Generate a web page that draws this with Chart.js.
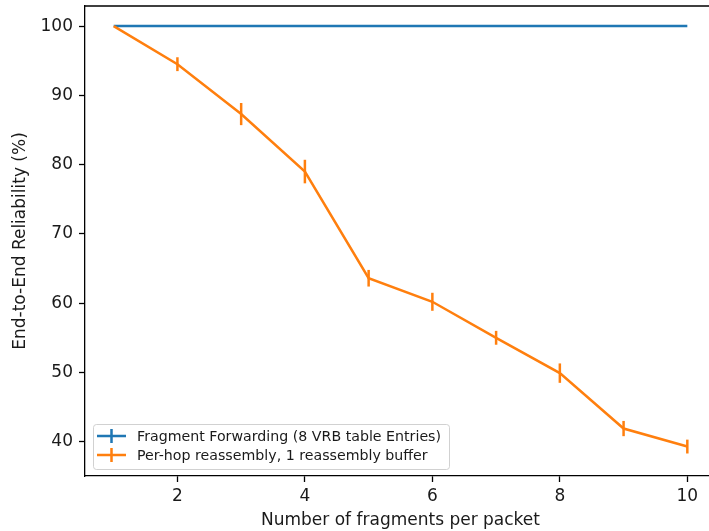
<!DOCTYPE html>
<html><head><meta charset="utf-8">
<script src="https://cdn.jsdelivr.net/npm/chart.js@4/dist/chart.umd.min.js"></script>
<style>html,body{margin:0;padding:0;overflow:hidden;background:#fff;width:709px;height:531px}canvas{display:block}</style>
</head><body><canvas id="c" width="730" height="531"></canvas>
<script>
const fragmentsPerPacket = [1, 2, 3, 4, 5, 6, 7, 8, 9, 10];
const fragmentForwarding = [100, 100, 100, 100, 100, 100, 100, 100, 100, 100];
const fragmentForwardingErr = [0, 0, 0, 0, 0, 0, 0, 0, 0, 0];
const perHopReassembly = [100, 94.5, 87.3, 79.0, 63.6, 60.2, 55.0, 49.9, 41.9, 39.3];
const perHopReassemblyErr = [0, 1.0, 1.6, 1.7, 1.2, 1.3, 1.0, 1.4, 1.1, 1.0];
const seriesLabels = ['Fragment Forwarding (8 VRB table Entries)', 'Per-hop reassembly, 1 reassembly buffer'];
const xTicks = [2, 4, 6, 8, 10];
const yTicks = [40, 50, 60, 70, 80, 90, 100];
const xTitle = 'Number of fragments per packet';
const yTitle = 'End-to-End Reliability (%)';

const FONT = "'DejaVu Sans', sans-serif";
const BLUE = '#1f77b4', ORANGE = '#ff7f0e';

const toPts = (ys) => fragmentsPerPacket.map((x, i) => ({x, y: ys[i]}));

const errorBars = {
  id: 'errorBars',
  afterDatasetsDraw(chart) {
    const {ctx, scales: {x, y}} = chart;
    chart.data.datasets.forEach((ds) => {
      if (!ds.errors) return;
      ctx.save();
      ctx.strokeStyle = ds.borderColor;
      ctx.lineWidth = 2.5;
      ds.data.forEach((p, i) => {
        const e = ds.errors[i];
        if (!e) return;
        const px = x.getPixelForValue(p.x);
        ctx.beginPath();
        ctx.moveTo(px, y.getPixelForValue(p.y - e));
        ctx.lineTo(px, y.getPixelForValue(p.y + e));
        ctx.stroke();
      });
      ctx.restore();
    });
  }
};

const frame = {
  id: 'frame',
  afterDraw(chart) {
    const {ctx, chartArea: a} = chart;
    ctx.save();
    ctx.strokeStyle = '#000';
    ctx.lineWidth = 1.3;
    ctx.beginPath();
    ctx.moveTo(a.left, a.top);
    ctx.lineTo(a.right, a.top);
    ctx.lineTo(a.right, a.bottom);
    ctx.stroke();
    ctx.restore();
  }
};

const legendBox = {
  id: 'legendBox',
  afterDraw(chart) {
    const {ctx} = chart;
    const bx = 93, by = 424, bw = 356, bh = 45, r = 3;
    ctx.save();
    ctx.fillStyle = 'rgba(255,255,255,0.8)';
    ctx.strokeStyle = 'rgba(204,204,204,0.9)';
    ctx.lineWidth = 1;
    ctx.beginPath();
    ctx.roundRect(bx + 0.5, by + 0.5, bw, bh, r);
    ctx.fill();
    ctx.stroke();
    const colors = [BLUE, ORANGE];
    ctx.font = '14.2px ' + FONT;
    ctx.textBaseline = 'middle';
    ctx.fillStyle = '#1a1a1a';
    seriesLabels.forEach((lab, i) => {
      const cy = 436 + i * 19;
      ctx.strokeStyle = colors[i];
      ctx.lineWidth = 2.5;
      ctx.beginPath();
      ctx.moveTo(97, cy); ctx.lineTo(126, cy);
      ctx.moveTo(111.5, cy - 7); ctx.lineTo(111.5, cy + 7);
      ctx.stroke();
      ctx.fillText(lab, 137, cy + 1);
    });
    ctx.restore();
  }
};

new Chart(document.getElementById('c'), {
  type: 'line',
  data: {
    datasets: [
      {label: seriesLabels[0], data: toPts(fragmentForwarding), errors: fragmentForwardingErr,
       borderColor: BLUE, backgroundColor: BLUE, borderWidth: 2.5, pointRadius: 0, order: 1, tension: 0},
      {label: seriesLabels[1], data: toPts(perHopReassembly), errors: perHopReassemblyErr,
       borderColor: ORANGE, backgroundColor: ORANGE, borderWidth: 2.5, pointRadius: 0, order: 0, tension: 0}
    ]
  },
  options: {
    responsive: false,
    animation: false,
    events: [],
    layout: {padding: {left: 0, top: 6, right: 14, bottom: 0}},
    plugins: {legend: {display: false}, tooltip: {enabled: false}},
    scales: {
      x: {
        type: 'linear', min: 0.55, max: 10.45,
        afterBuildTicks: (s) => { s.ticks = xTicks.map(v => ({value: v})); },
        afterFit: (s) => { s.height = 55; s.paddingLeft = 0; s.paddingRight = 0; },
        grid: {display: true, drawOnChartArea: false, drawTicks: true, tickLength: 6, color: '#000', tickWidth: 1.3},
        border: {display: true, color: '#000', width: 1.3},
        ticks: {color: '#1a1a1a', font: {family: FONT, size: 17}, padding: 4, maxRotation: 0},
        title: {display: true, text: xTitle, color: '#1a1a1a', font: {family: FONT, size: 17}, padding: {top: 0, bottom: 0}}
      },
      y: {
        type: 'linear', min: 35.05, max: 102.9,
        afterBuildTicks: (s) => { s.ticks = yTicks.map(v => ({value: v})); },
        afterFit: (s) => { s.width = 85; s.paddingTop = 0; s.paddingBottom = 0; },
        grid: {display: true, drawOnChartArea: false, drawTicks: true, tickLength: 6, color: '#000', tickWidth: 1.3},
        border: {display: true, color: '#000', width: 1.3},
        ticks: {color: '#1a1a1a', font: {family: FONT, size: 17}, padding: 6},
        title: {display: true, text: yTitle, color: '#1a1a1a', font: {family: FONT, size: 17}, padding: {top: 10, bottom: 0}}
      }
    }
  },
  plugins: [errorBars, frame, legendBox]
});
</script>
</body></html>
